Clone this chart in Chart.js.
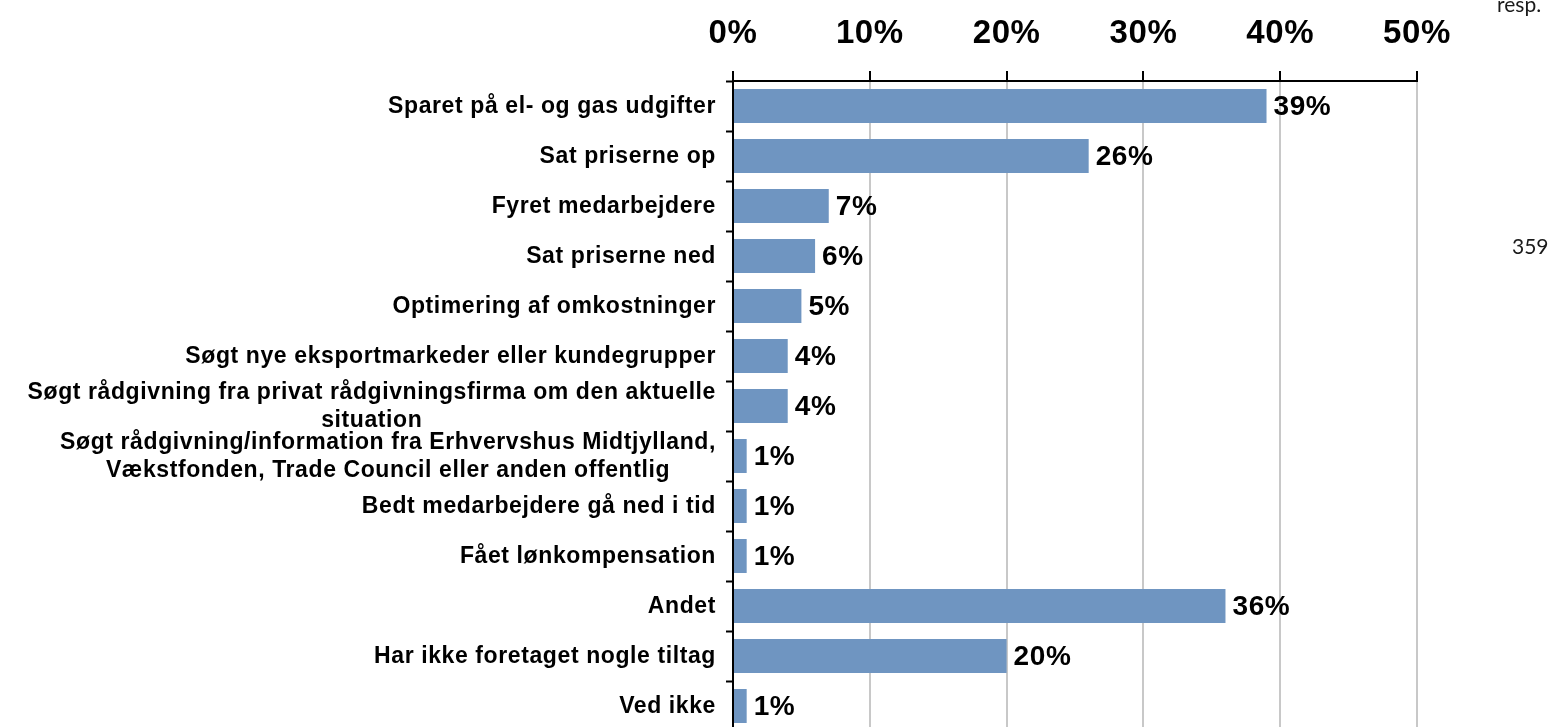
<!DOCTYPE html>
<html>
<head>
<meta charset="utf-8">
<script src="https://cdn.jsdelivr.net/npm/chart.js@4.4.1/dist/chart.umd.min.js"></script>
<style>
  html, body { margin: 0; padding: 0; background: #fff; overflow: hidden; }
  #wrap { position: absolute; left: 0; top: 0; width: 1554px; height: 731px; }
  .side { position: absolute; font-family: Lato, "Open Sans", sans-serif; font-size: 21px; color: #1a1a1a; }
</style>
</head>
<body>
<div id="wrap"><canvas id="tiltagChart"></canvas></div>
<div class="side" style="left:1497px; top:-9px;">resp.</div>
<div class="side" style="left:1512px; top:233px;">359</div>
<script>
// kategorier (y-aksen), i samme rækkefølge som i figuren
const categories = [
    "Sparet på el- og gas udgifter",
    "Sat priserne op",
    "Fyret medarbejdere",
    "Sat priserne ned",
    "Optimering af omkostninger",
    "Søgt nye eksportmarkeder eller kundegrupper",
    ["Søgt rådgivning fra privat rådgivningsfirma om den aktuelle", "situation"],
    ["Søgt rådgivning/information fra Erhvervshus Midtjylland,", "Vækstfonden, Trade Council eller anden offentlig"],
    "Bedt medarbejdere gå ned i tid",
    "Fået lønkompensation",
    "Andet",
    "Har ikke foretaget nogle tiltag",
    "Ved ikke"
];

// andel i procent
const values = [39, 26, 7, 6, 5, 4, 4, 1, 1, 1, 36, 20, 1];

// x-aksens tick labels
const tickLabels = ["0%", "10%", "20%", "30%", "40%", "50%"];

const fontFam = "'Liberation Sans', Arial, sans-serif";
const spacingPx = "0.6px";

const spacing = {
    id: "spacing",
    beforeLayout(chart) { chart.ctx.letterSpacing = spacingPx; },
    beforeDraw(chart) { chart.ctx.letterSpacing = spacingPx; }
};

// kategori-tekster: blokken højrestillet, linjerne centreret i blokken (som i Excel)
const catLabels = {
    id: "catLabels",
    afterDraw(chart) {
        const ctx = chart.ctx;
        const y = chart.scales.y;
        const right = y.right - 17;
        const lh = 28;
        ctx.save();
        ctx.letterSpacing = spacingPx;
        ctx.font = "bold 23px " + fontFam;
        ctx.fillStyle = "#000";
        ctx.textAlign = "center";
        ctx.textBaseline = "middle";
        categories.forEach((lab, i) => {
            const lines = Array.isArray(lab) ? lab : [lab];
            const w = Math.max(...lines.map(l => ctx.measureText(l).width));
            const cx = right - w / 2;
            const cy = y.getPixelForValue(i);
            lines.forEach((l, k) => {
                ctx.fillText(l, cx, cy + 1 + (k - (lines.length - 1) / 2) * lh);
            });
        });
        ctx.restore();
    }
};

// procent-tal til højre for hver søjle
const valueLabels = {
    id: "valueLabels",
    afterDatasetsDraw(chart) {
        const ctx = chart.ctx;
        const meta = chart.getDatasetMeta(0);
        ctx.save();
        ctx.letterSpacing = spacingPx;
        ctx.font = "bold 28px " + fontFam;
        ctx.fillStyle = "#000";
        ctx.textAlign = "left";
        ctx.textBaseline = "middle";
        meta.data.forEach((bar, i) => {
            ctx.fillText(values[i] + "%", bar.x + 7, bar.y + 1);
        });
        ctx.restore();
    }
};

const el = document.getElementById("tiltagChart");

new Chart(el, {
    type: "bar",
    data: {
        labels: categories,
        datasets: [{
            data: values,
            backgroundColor: "#6F95C1",
            borderWidth: 0,
            categoryPercentage: 0.68,
            barPercentage: 1.0
        }]
    },
    options: {
        indexAxis: "y",
        responsive: true,
        maintainAspectRatio: false,
        animation: false,
        layout: { padding: { left: 0, right: 137, top: 0, bottom: 0 } },
        plugins: {
            legend: { display: false },
            tooltip: { enabled: false }
        },
        scales: {
            x: {
                position: "top",
                min: 0,
                max: 50,
                ticks: {
                    stepSize: 10,
                    padding: 17,
                    color: "#000",
                    font: { family: fontFam, size: 33, weight: "bold" },
                    callback: (v, i) => tickLabels[i]
                },
                grid: {
                    color: "#c8c8c8",
                    lineWidth: 2,
                    tickColor: "#000",
                    tickWidth: 2,
                    tickLength: 10
                },
                border: { display: true, color: "#000", width: 2 },
                afterFit(scale) { scale.height = 81; }
            },
            y: {
                ticks: { display: false, autoSkip: false },
                grid: {
                    drawOnChartArea: false,
                    tickColor: "#000",
                    tickWidth: 2,
                    tickLength: 7
                },
                border: { display: true, color: "#000", width: 2 },
                afterFit(scale) { scale.width = 733; }
            }
        }
    },
    plugins: [spacing, catLabels, valueLabels]
});
</script>
</body>
</html>
